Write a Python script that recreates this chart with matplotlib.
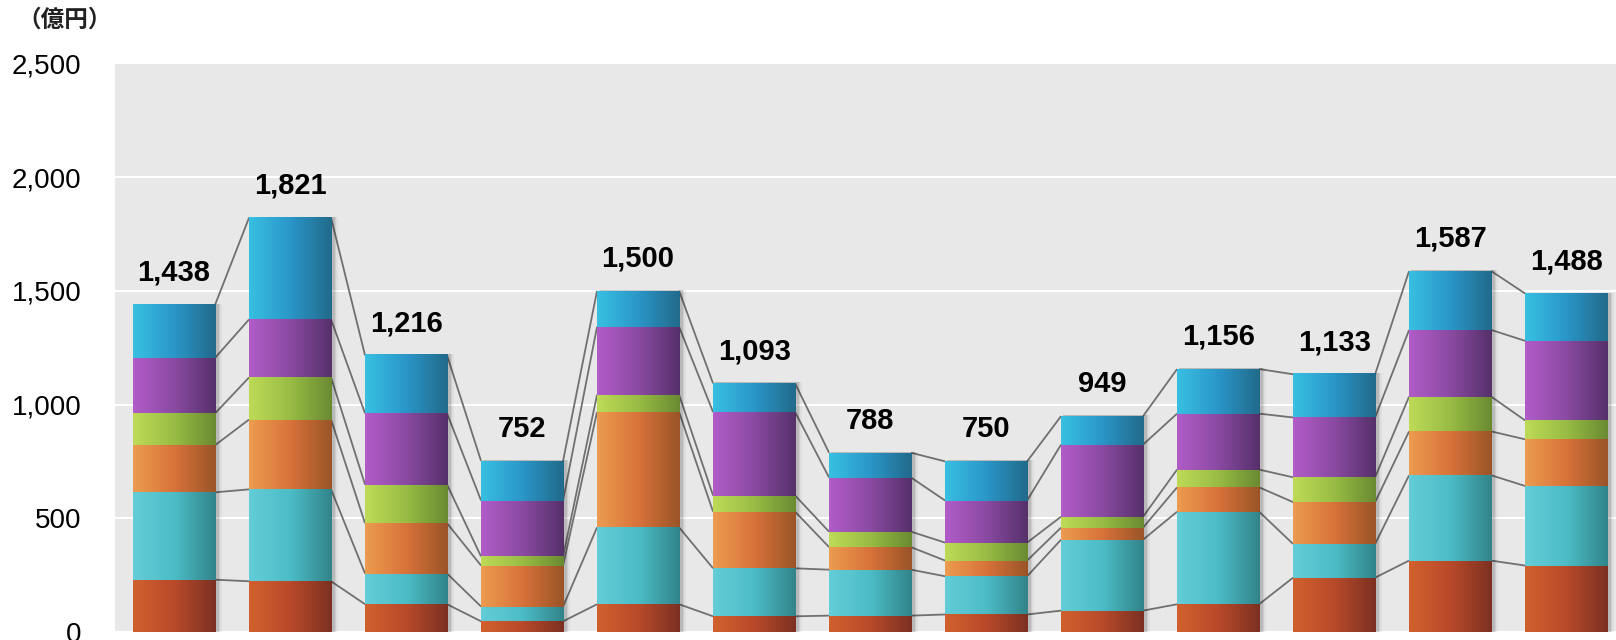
""" Stacked bars with connector lines, 13 periods, 6 segments each. """

###########
# Imports #
###########
import numpy as np
import matplotlib
matplotlib.use("Agg")
import matplotlib.pyplot as plt
from matplotlib.colors import LinearSegmentedColormap
from matplotlib.patches import Rectangle


########
# Data #
########
# segment values per bar, bottom to top (億円)
red = [230, 223, 122, 47, 122, 69, 72, 77, 94, 122, 239, 314, 292]
teal = [384, 404, 135, 65, 338, 211, 202, 168, 312, 407, 148, 375, 350]
orange = [207, 307, 221, 180, 507, 249, 99, 69, 53, 107, 184, 193, 205]
green = [140, 185, 170, 40, 76, 71, 68, 79, 48, 78, 109, 153, 83]
purple = [244, 255, 313, 246, 299, 367, 238, 185, 317, 246, 263, 293, 350]
blue = [233, 447, 255, 174, 158, 126, 109, 172, 125, 196, 190, 259, 208]

totals = [1438, 1821, 1216, 752, 1500, 1093, 788, 750, 949, 1156, 1133, 1587, 1488]
y_ticks = [0, 500, 1000, 1500, 2000, 2500]

segments = [red, teal, orange, green, purple, blue]
# (left, middle, right) shades for the horizontal gradient
shades = [
    ("#d2602e", "#b84a2a", "#7c3022"),
    ("#64cdd7", "#4cbcc6", "#318489"),
    ("#ec9c50", "#d8723a", "#9a5428"),
    ("#bedb57", "#98bc44", "#6a8a32"),
    ("#b25cc8", "#8a4aa2", "#55306a"),
    ("#38c0e2", "#2a96c8", "#226a8a"),
]


############
# Plotting #
############
fig = plt.figure(figsize=(16.16, 6.4), dpi=100)
ax = fig.add_axes([115 / 1616, 8 / 640, 1 - 115 / 1616, (632 - 63.3) / 640])
ax.set_facecolor("#e8e8e8")

n = len(totals)
x = np.arange(n)
w = 0.707
cum = np.vstack([np.zeros(n), np.cumsum(np.array(segments), axis=0)])

# connector lines between neighbouring bars
for level in range(1, cum.shape[0]):
    for i in range(n - 1):
        ax.plot([x[i] + w / 2, x[i + 1] - w / 2],
                [cum[level, i], cum[level, i + 1]],
                color="#707070", lw=1.3, zorder=2, solid_capstyle="butt")

grad = np.linspace(0, 1, 256).reshape(1, -1)
for i in range(n):
    # soft shadow to the right
    for k, a in enumerate([0.10, 0.07, 0.04]):
        ax.add_patch(Rectangle((x[i] - w / 2 + 0.02, 0), w + 0.012 * (k + 1),
                               totals[i] + 4, color="black", alpha=a,
                               lw=0, zorder=2.5))
    for s, (c0, c1, c2) in enumerate(shades):
        cmap = LinearSegmentedColormap.from_list("g", [c0, c1, c2])
        ax.imshow(grad, cmap=cmap, aspect="auto", interpolation="bilinear",
                  extent=(x[i] - w / 2, x[i] + w / 2, cum[s, i], cum[s + 1, i]),
                  zorder=3)
    ax.annotate(f"{totals[i]:,}", (x[i], cum[-1, i]), xytext=(0, 13),
                textcoords="offset points", ha="center", va="bottom",
                fontsize=21, fontweight="bold", family="Liberation Sans")

ax.set_xlim(-0.509, 12.43)
ax.set_ylim(0, 2500)
ax.set_yticks(y_ticks)
ax.set_yticklabels([f"{v:,}" for v in y_ticks], family="Liberation Sans",
                   fontsize=20)
ax.set_xticks([])
ax.tick_params(axis="y", length=0, pad=24)
ax.grid(axis="y", color="white", lw=1.5, zorder=1)
ax.set_axisbelow(True)
for sp in ax.spines.values():
    sp.set_visible(False)

fig.text(65 / 1616, 1 - 20 / 640, "（億円）", ha="center", va="center",
         fontsize=17, fontweight="bold",
         family=["Noto Sans CJK JP", "DejaVu Sans"], color="#222222")

fig.savefig("out.png", dpi=100)
